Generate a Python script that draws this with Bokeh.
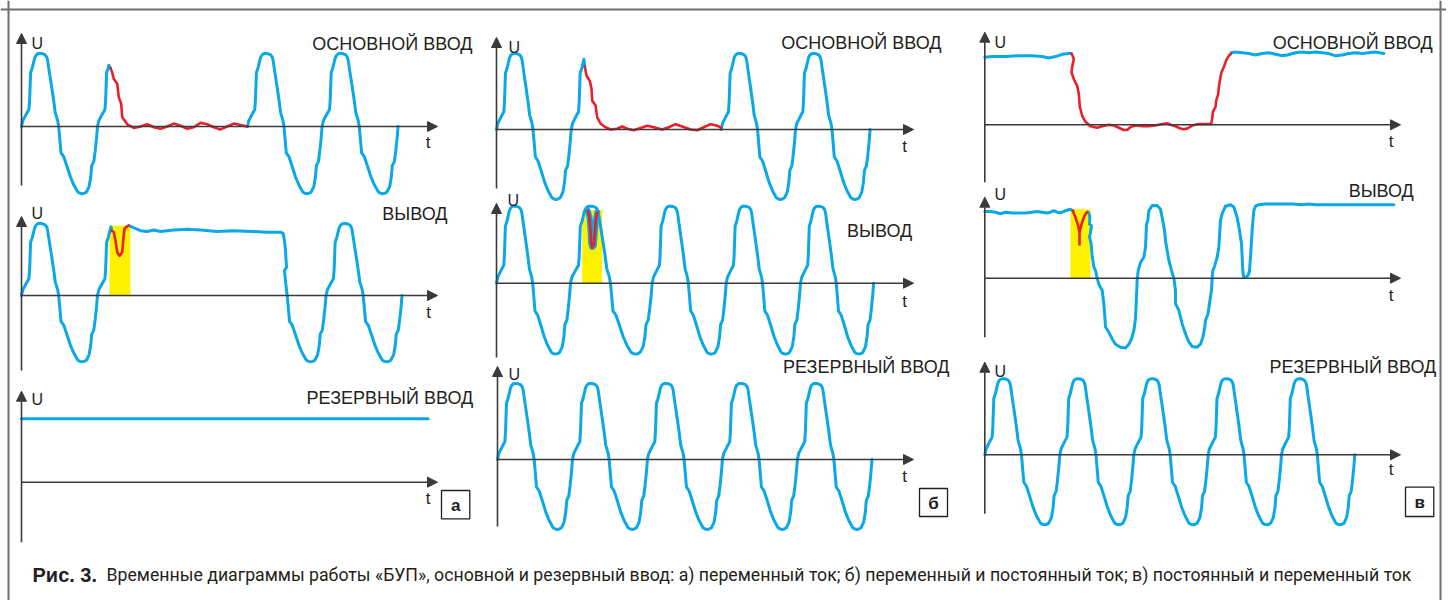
import numpy as np
from bokeh.plotting import figure
from bokeh.models import Range1d, Arrow, NormalHead, Label, Span
from bokeh.embed import file_html
from bokeh.resources import INLINE

# ---------------- data (time in ms, voltage in relative units) ----------------
# one period of the hand-drawn (distorted) AC wave: phase 0..1, U relative to peak
TEMPLATE_PHASE = [0, 0.018, 0.062, 0.098, 0.107, 0.12, 0.142, 0.173, 0.19, 0.209, 0.23, 0.253, 0.28,
                  0.311, 0.33, 0.342, 0.364, 0.4, 0.422, 0.444, 0.476, 0.489, 0.507, 0.52, 0.556,
                  0.596, 0.644, 0.689, 0.742, 0.77, 0.796, 0.825, 0.853, 0.889, 0.911, 0.924, 0.951,
                  0.969, 0.987, 1.0]
TEMPLATE_U = [0, 0.08, 0.167, 0.233, 0.366, 0.74, 0.806, 0.938, 0.975, 0.993, 1.0, 1.0, 0.996,
              0.982, 0.955, 0.916, 0.762, 0.52, 0.366, 0.19, 0.08, 0, -0.207, -0.361, -0.414,
              -0.537, -0.692, -0.802, -0.899, -0.915, -0.921, -0.915, -0.899, -0.824, -0.692,
              -0.537, -0.48, -0.339, -0.163, 0]

# ---- panel a ----
A1_START = [0.0, 20.0]
A1_PERIOD = [20.0, 20.0]
A1_PHASE_TO = [1.0, 0.15]
A1_RED_T = [23.42, 23.87, 24.29, 25.18, 25.61, 26.24, 26.5, 27.82, 29.55, 31.32, 33.08, 34.82, 36.58,
            38.34, 40.08, 41.84, 43.61, 45.34, 47.11, 48.87, 50.61, 52.37, 54.13, 55.87, 57.63, 59.47]
A1_RED_U = [0.8, 0.74, 0.65, 0.59, 0.4, 0.31, 0.13, 0.03, -0.02, 0.0, 0.03, -0.01, -0.03,
            0.0, 0.04, 0.01, -0.03, -0.01, 0.05, 0.03, -0.01, -0.04, 0.0, 0.04, 0.02, 0.0]
A1_AFTER_START = [59.47, 79.1]
A1_AFTER_PERIOD = [19.63, 20.0]

A2_START = [0.0, 20.0]
A2_PERIOD = [20.0, 20.0]
A2_PHASE_TO = [1.0, 0.18]
A2_RED_T = [23.68, 24.29, 24.74, 25.18, 25.79, 26.5, 26.76, 27.11, 27.82, 28.24]
A2_RED_U = [0.9, 0.88, 0.76, 0.6, 0.55, 0.6, 0.76, 0.93, 0.96, 0.97]
A2_FLAT_T = [28.24, 29.55, 31.32, 33.08, 34.82, 36.58, 40.08, 43.61, 47.11, 51.5, 55.87, 60.26, 64.66,
             68.16, 68.87, 69.21, 69.47, 69.74, 69.21, 69.55, 69.92]
A2_FLAT_U = [0.97, 0.94, 0.9, 0.89, 0.91, 0.89, 0.91, 0.92, 0.91, 0.89, 0.9, 0.89, 0.88,
             0.88, 0.86, 0.76, 0.63, 0.39, 0.35, 0.16, 0.0]
A2_AFTER_START = [60.14, 80.14]
A2_AFTER_PERIOD = [20.0, 20.0]
A2_AFTER_PHASE_FROM = [0.489, 0.0]
A2_YELLOW = [23.16, 28.68, 0.97]          # t from, t to, U top

A3_DC_T = [0.0, 107.0]
A3_DC_U = [0.88, 0.88]

# ---- panel b ----
B1_START = [0.0, 20.03]
B1_PERIOD = [20.03, 20.0]
B1_PHASE_TO = [1.0, 0.17]
B1_RED_T = [23.67, 24.13, 25.01, 25.47, 25.66, 26.54, 27.0, 27.88, 29.22, 30.56, 32.36, 33.7, 35.04,
            36.81, 38.61, 40.4, 42.17, 44.42, 46.19, 47.99, 49.79, 52.01, 53.81, 55.58, 57.37, 59.17, 60.24]
B1_RED_U = [0.83, 0.71, 0.64, 0.54, 0.38, 0.32, 0.16, 0.08, 0.03, 0.0, 0.01, 0.04, 0.01,
            -0.01, 0.02, 0.05, 0.03, 0.0, 0.03, 0.07, 0.04, 0.0, -0.01, 0.03, 0.07, 0.05, 0.02]
B1_AFTER_START = [60.24, 80.16]
B1_AFTER_PERIOD = [19.92, 20.0]

B2_START = [0.0, 19.84, 41.74, 61.58, 81.5]
B2_PERIOD = [19.84, 21.9, 19.84, 19.92, 19.6]
B2_RED_T = [24.48, 24.93, 25.2, 25.39, 25.66, 26.09, 26.35, 26.62, 27.0]
B2_RED_U = [0.94, 0.86, 0.68, 0.51, 0.47, 0.49, 0.64, 0.81, 0.92]
B2_YELLOW = [22.97, 28.33, 0.95]

B3_START = [0.0, 20.1, 40.2, 60.3, 80.4]
B3_PERIOD = [20.1, 20.1, 20.1, 20.1, 20.0]

# ---- panel c ----
C1_BLUE1_T = [0, 1.99, 5.56, 9.14, 12.74, 15.43, 17.2, 19.01, 20.81, 22.58, 23.31]
C1_BLUE1_U = [0.9, 0.91, 0.91, 0.92, 0.92, 0.91, 0.89, 0.91, 0.94, 0.95, 0.95]
C1_RED_T = [23.31, 23.93, 23.49, 23.31, 23.93, 24.83, 25.28, 25.55, 26.17, 27.07, 28.41, 30.21, 31.55,
            33.34, 34.69, 36.03, 37.37, 38.27, 39.17, 40.51, 42.3, 44.09, 45.89, 47.68, 49.02, 49.92,
            51.26, 52.61, 53.5, 54.4, 55.74, 57.54, 59.33, 60.85, 61.12, 61.3, 62.02, 62.2, 62.73,
            62.91, 63.36, 63.63, 64.26, 64.88, 65.6, 66.23]
C1_RED_U = [0.95, 0.88, 0.77, 0.7, 0.61, 0.52, 0.41, 0.24, 0.12, 0.04, -0.02, -0.04, -0.02,
            0.0, -0.01, -0.04, -0.07, -0.07, -0.03, -0.01, -0.02, -0.02, -0.01, 0.01, 0.02, 0.0,
            -0.02, -0.05, -0.06, -0.05, -0.01, 0.01, 0.01, 0.01, 0.08, 0.17, 0.24, 0.32, 0.41,
            0.5, 0.64, 0.7, 0.77, 0.86, 0.92, 0.95]
C1_BLUE2_T = [66.23, 67.39, 69.19, 70.98, 72.77, 74.56, 76.35, 78.15, 79.94, 81.28, 83.52, 85.31,
              87.11, 88.9, 90.69, 92.48, 94.27, 96.07, 97.86, 99.65, 101.44, 103.23, 105.03, 107.27]
C1_BLUE2_U = [0.96, 0.97, 0.96, 0.95, 0.93, 0.95, 0.96, 0.94, 0.92, 0.93, 0.96, 0.97,
              0.96, 0.97, 0.96, 0.95, 0.92, 0.93, 0.95, 0.96, 0.95, 0.96, 0.97, 0.95]

C2_BLUE1_T = [0.0, 1.53, 2.88, 4.22, 5.56, 7.36, 9.15, 10.94, 12.73, 14.08, 15.42, 16.77, 17.66,
              18.56, 19.45, 20.35, 21.69, 23.04, 23.66]
C2_BLUE1_U = [0.89, 0.89, 0.88, 0.86, 0.88, 0.87, 0.87, 0.87, 0.88, 0.89, 0.88, 0.87, 0.88,
              0.9, 0.88, 0.87, 0.9, 0.92, 0.9]
C2_RED_LEFT_T = [23.66, 24.38, 25.1, 25.46, 25.46]
C2_RED_LEFT_U = [0.9, 0.81, 0.7, 0.61, 0.45]
C2_RED_RIGHT_T = [25.46, 25.99, 26.62, 27.25, 27.52]
C2_RED_RIGHT_U = [0.61, 0.72, 0.81, 0.87, 0.88]
C2_YELLOW = [23.04, 28.41, 0.92]
C2_BLUE2_T = [27.52, 27.97, 28.24, 28.15, 28.68, 28.41, 28.15, 28.59, 28.86, 29.31,
              29.76, 30.21, 30.65, 31.55, 32.0, 32.27, 32.45, 33.34, 34.24, 35.13,
              36.48, 37.82, 38.72, 39.44, 40.06, 40.51, 40.69, 40.96, 41.23, 41.86,
              42.75, 43.2, 43.47, 43.83, 44.1, 44.99, 46.34, 47.23, 47.68, 48.31,
              48.58, 49.02, 49.47, 50.19, 50.82, 51.26, 51.26, 52.16, 53.06, 53.95,
              54.85, 55.74, 57.09, 57.98, 58.61, 59.15, 59.33, 59.96, 60.4, 60.94,
              61.12, 61.3, 61.84, 62.46, 62.91, 63.36, 63.81, 64.7, 66.05, 66.95,
              67.84, 68.47, 69.01, 69.19, 69.36, 69.54, 70.08, 70.8, 71.16, 71.43,
              71.87, 72.32, 72.77, 73.67, 75.46, 79.04, 82.63, 85.31, 87.11, 88.9,
              91.59, 95.17, 98.76, 102.34, 105.92, 109.96]
C2_BLUE2_U = [0.88, 0.87, 0.81, 0.72, 0.70, 0.61, 0.55, 0.46, 0.30, 0.15,
              0.10, 0.0, -0.08, -0.16, -0.34, -0.52, -0.65, -0.72, -0.81, -0.88,
              -0.92, -0.93, -0.88, -0.81, -0.70, -0.54, -0.34, -0.03, 0.10, 0.21,
              0.28, 0.41, 0.72, 0.77, 0.9, 0.97, 0.97, 0.92, 0.81, 0.64,
              0.50, 0.37, 0.24, 0.10, 0.0, -0.16, -0.34, -0.43, -0.61, -0.74,
              -0.85, -0.91, -0.92, -0.88, -0.79, -0.65, -0.56, -0.48, -0.34, -0.16,
              0.0, 0.10, 0.17, 0.28, 0.41, 0.77, 0.86, 0.96, 0.98, 0.95,
              0.81, 0.64, 0.46, 0.28, 0.10, 0.02, 0.01, 0.04, 0.10, 0.28,
              0.64, 0.9, 0.96, 0.98, 0.99, 0.99, 0.99, 0.98, 0.99, 0.98,
              0.98, 0.98, 0.98, 0.98, 0.98, 0.98]

C3_START = [0.0, 20.16, 40.05, 60.05, 79.76]
C3_PERIOD = [20.16, 19.89, 20.0, 19.71, 19.7]

TITLES = ["ОСНОВНОЙ ВВОД", "ВЫВОД", "РЕЗЕРВНЫЙ ВВОД"]
PANEL_LETTERS = ["а", "б", "в"]
CAPTION_BOLD = "Рис. 3."
CAPTION = ("Временные диаграммы работы «БУП», основной и резервный ввод: а) переменный ток; "
           "б) переменный и постоянный ток; в) постоянный и переменный ток")

# ---------------- styling / layout ----------------
BLUE = "#0aa8e6"
RED = "#e8202a"
YELLOW = "#fff200"
AXIS = "#3a3a3a"
TEXT = "#231f20"
FRAME = "#6d6e71"
TITLE_FONT = "Liberation Sans"
CAPTION_FONT = "Roboto"

# key, origin x, origin y, px per ms, px per unit, x-arrow tip, y-arrow tip, y-axis bottom,
# U label (left x, y), t label (x, y), title index, title right x, title y
SUBPLOTS = [
    ("a1", 21, 126, 3.8, 73, 437, 33, 185, (31, 43), (427.5, 142), 0, 472, 43),
    ("a2", 21, 295, 3.8, 72, 437, 216, 370, (31, 213), (428, 312), 1, 447, 213),
    ("a3", 21, 481.7, 3.8, 72, 437, 390.7, 541.7, (31, 399), (427.5, 497.5), 2, 472.7, 397),
    ("b1", 496, 129, 3.73, 76, 913, 37, 188, (508, 47), (904, 146), 0, 941, 42),
    ("b2", 496, 282.7, 3.73, 77, 913, 203, 357, (507, 200), (904, 300.5), 1, 911.7, 230.5),
    ("b3", 497, 459, 3.73, 76, 913, 366, 526, (508, 374), (904, 476), 2, 949, 366),
    ("c1", 984.3, 124.3, 3.72, 75, 1400, 31.7, 181.7, (994, 41.5), (1390.5, 141), 0, 1432.3, 42.2),
    ("c2", 984.3, 277.7, 3.72, 75, 1400, 196.7, 336.7, (994, 194), (1390.5, 295), 1, 1413.3, 190.7),
    ("c3", 984.3, 454.3, 3.72, 76, 1400, 361.7, 513.3, (994, 371), (1390.5, 469), 2, 1435.7, 366),
]
BOXES = [(441, 490, 469.3, 518.3), (919, 488, 947, 516), (1405, 486.7, 1433.3, 516)]

X0, X1, Y0, Y1 = 0, 1446, 0, 600   # page area in picture pixels


def cycle(start, period, p0=0.0, p1=1.0):
    ph = np.array(TEMPLATE_PHASE)
    u = np.array(TEMPLATE_U)
    inner = ph[(ph > p0) & (ph < p1)]
    phs = np.concatenate([[p0], inner, [p1]])
    return list(start + phs * period), list(np.interp(phs, ph, u))


def wave(starts, periods, p_from=None, p_to=None):
    ts, us = [], []
    for i, (s, per) in enumerate(zip(starts, periods)):
        a = p_from[i] if p_from else 0.0
        b = p_to[i] if p_to else 1.0
        t, u = cycle(s, per, a, b)
        ts += t
        us += u
    return ts, us


p = figure(width=X1 - X0, height=Y1 - Y0, x_range=Range1d(X0, X1), y_range=Range1d(Y1, Y0),
           output_backend="svg", toolbar_location=None, x_axis_type=None, y_axis_type=None,
           min_border=0, outline_line_color=None, background_fill_color="white")

xr, yr = {}, {}
for key, ox, oy, sx, sy, *_ in SUBPLOTS:
    xr[key] = Range1d((X0 - ox) / sx, (X1 - ox) / sx)
    yr[key] = Range1d((oy - Y1) / sy, (oy - Y0) / sy)
p.extra_x_ranges = xr
p.extra_y_ranges = yr

# frame
p.add_layout(Span(location=9, dimension="width", line_color=FRAME, line_width=2))
p.add_layout(Span(location=8, dimension="height", line_color=FRAME, line_width=2))
p.add_layout(Span(location=1440, dimension="height", line_color=FRAME, line_width=2))


def yellow(key, spec):
    p.quad(left=[spec[0]], right=[spec[1]], bottom=[0], top=[spec[2]], x_range_name=key,
           y_range_name=key, fill_color=YELLOW, line_color=None)


yellow("a2", A2_YELLOW)
yellow("b2", B2_YELLOW)
yellow("c2", C2_YELLOW)

# axes, labels
for key, ox, oy, sx, sy, xtip, ytip, ybot, upos, tpos, ti, tx, ty in SUBPLOTS:
    p.add_layout(Arrow(end=NormalHead(size=10, fill_color=AXIS, line_color=AXIS, line_width=1),
                       x_start=ox, y_start=oy, x_end=xtip, y_end=oy,
                       line_color=AXIS, line_width=1.6))
    p.add_layout(Arrow(end=NormalHead(size=10, fill_color=AXIS, line_color=AXIS, line_width=1),
                       x_start=ox, y_start=ybot, x_end=ox, y_end=ytip,
                       line_color=AXIS, line_width=1.6))
    p.add_layout(Label(x=upos[0], y=upos[1], text="U", text_font=TITLE_FONT, text_font_size="16px",
                       text_baseline="middle", text_align="left", text_color=TEXT))
    p.add_layout(Label(x=tpos[0], y=tpos[1], text="t", text_font=TITLE_FONT, text_font_size="17px",
                       text_baseline="middle", text_align="center", text_color=TEXT))
    p.add_layout(Label(x=tx, y=ty, text=TITLES[ti], text_font=TITLE_FONT, text_font_size="18px",
                       text_baseline="middle", text_align="right", text_color=TEXT))


def line(key, t, u, color=BLUE, width=3.0):
    p.line(t, u, x_range_name=key, y_range_name=key, line_color=color, line_width=width,
           line_join="round", line_cap="round")


# ---- panel a ----
t, u = wave(A1_START, A1_PERIOD, p_to=A1_PHASE_TO)
line("a1", t + A1_RED_T[:1], u + A1_RED_U[:1])
line("a1", *wave(A1_AFTER_START, A1_AFTER_PERIOD))
line("a1", A1_RED_T, A1_RED_U, RED, 2.6)

t, u = wave(A2_START, A2_PERIOD, p_to=A2_PHASE_TO)
line("a2", t + A2_RED_T[:1], u + A2_RED_U[:1])
t2, u2 = wave(A2_AFTER_START, A2_AFTER_PERIOD, p_from=A2_AFTER_PHASE_FROM)
line("a2", A2_FLAT_T + t2, A2_FLAT_U + u2)
line("a2", A2_RED_T, A2_RED_U, RED, 2.6)

line("a3", A3_DC_T, A3_DC_U)

# ---- panel b ----
t, u = wave(B1_START, B1_PERIOD, p_to=B1_PHASE_TO)
line("b1", t + B1_RED_T[:1], u + B1_RED_U[:1])
line("b1", *wave(B1_AFTER_START, B1_AFTER_PERIOD))
line("b1", B1_RED_T, B1_RED_U, RED, 2.6)

line("b2", *wave(B2_START, B2_PERIOD))
line("b2", B2_RED_T, B2_RED_U, BLUE, 6)
line("b2", B2_RED_T, B2_RED_U, RED, 2.6)

line("b3", *wave(B3_START, B3_PERIOD))

# ---- panel c ----
line("c1", C1_BLUE1_T, C1_BLUE1_U)
line("c1", C1_BLUE2_T, C1_BLUE2_U)
line("c1", C1_RED_T, C1_RED_U, RED, 2.6)

line("c2", C2_BLUE1_T, C2_BLUE1_U)
line("c2", C2_BLUE2_T, C2_BLUE2_U)
line("c2", C2_RED_LEFT_T, C2_RED_LEFT_U, RED, 2.6)
line("c2", C2_RED_RIGHT_T, C2_RED_RIGHT_U, RED, 2.6)

line("c3", *wave(C3_START, C3_PERIOD))

# panel letters
for letter, (l, tp, r, b) in zip(PANEL_LETTERS, BOXES):
    p.quad(left=[l], right=[r], top=[tp], bottom=[b], fill_color="white", line_color=TEXT,
           line_width=1.3)
    p.add_layout(Label(x=(l + r) / 2, y=(tp + b) / 2 + 1, text=letter, text_font=TITLE_FONT,
                       text_font_size="17px", text_font_style="bold", text_align="center",
                       text_baseline="middle", text_color=TEXT))

# caption
p.add_layout(Label(x=32, y=574, text=CAPTION_BOLD, text_font=TITLE_FONT, text_font_size="20px",
                   text_font_style="bold", text_baseline="middle", text_color=TEXT))
p.add_layout(Label(x=106, y=574, text=CAPTION, text_font=CAPTION_FONT, text_font_size="17.7px",
                   text_baseline="middle", text_color=TEXT))

open("out.html", "w").write(file_html(p, INLINE))
